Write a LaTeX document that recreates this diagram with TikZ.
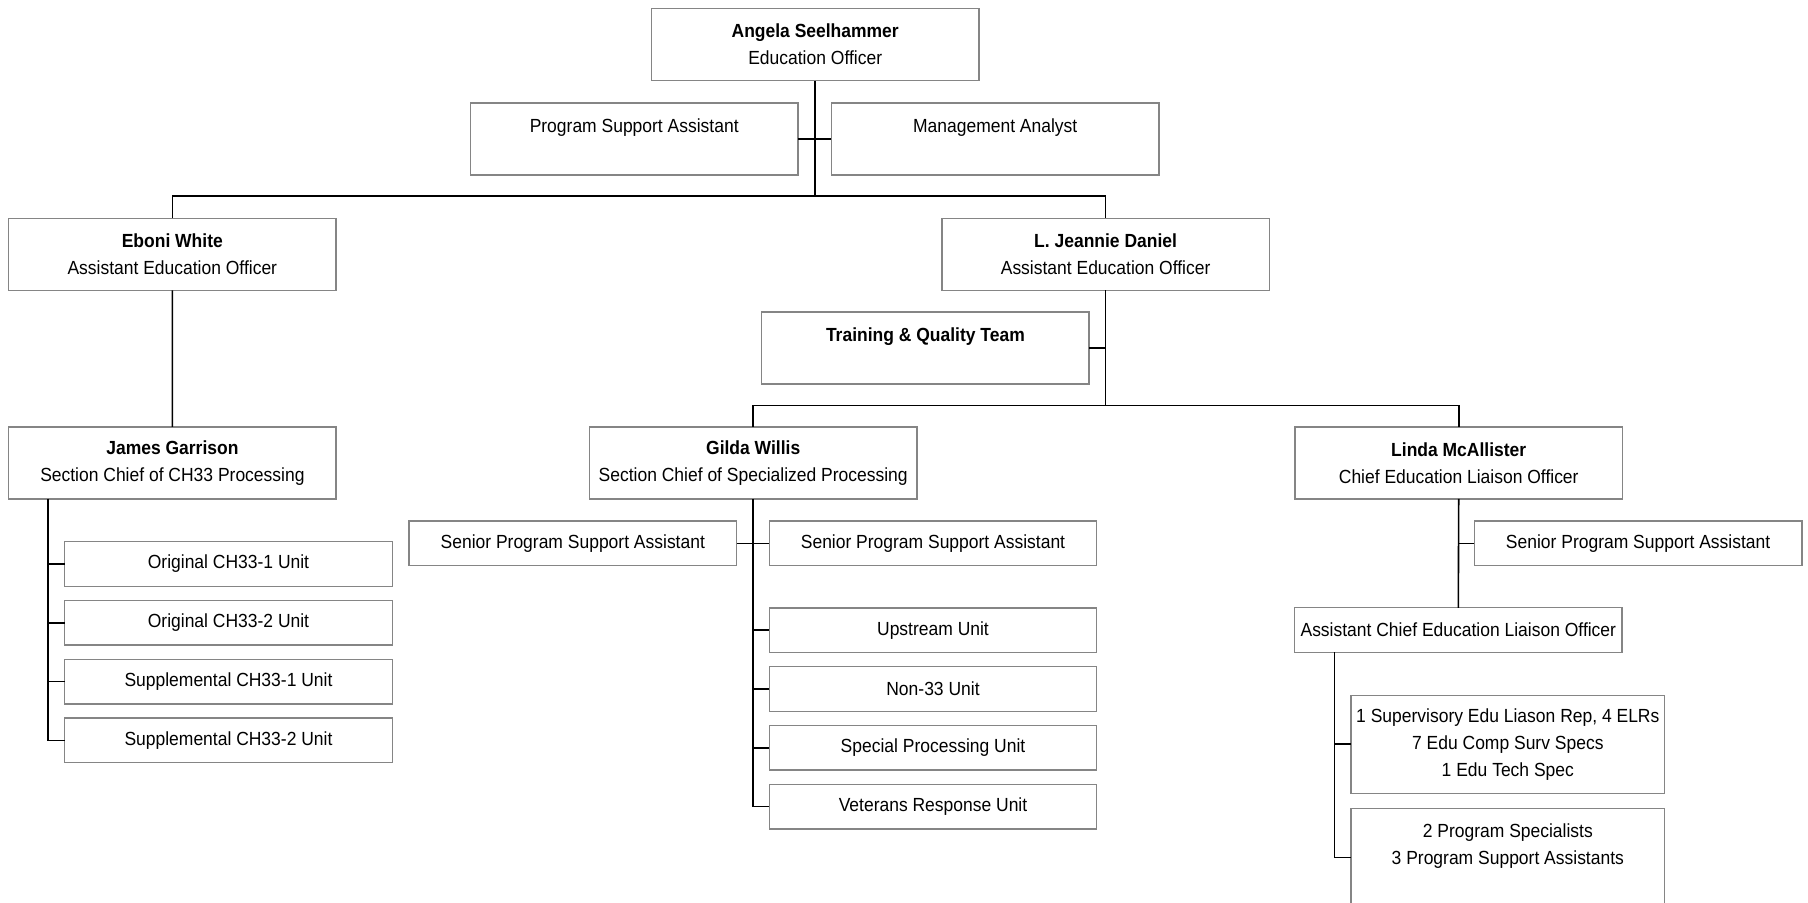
\documentclass[tikz,border=0pt]{standalone}
\usepackage{fontspec}
\setmainfont{Liberation Sans}[FakeStretch=0.92]
\usetikzlibrary{positioning,calc}
\definecolor{boxgray}{HTML}{858585}

\tikzset{
    box/.style={draw=boxgray, line width=0.7pt, fill=white, inner sep=0pt, outer sep=0pt, align=center,
        minimum width=163.75pt, minimum height=36pt, font=\fontsize{9.5}{13.5}\selectfont},
    unitbox/.style={box, minimum height=22.25pt},
    teambox/.style={box, minimum width=156.75pt, minimum height=49pt},
    conn/.style={-, draw=black, line width=0.8pt}
}

\begin{document}
\begin{tikzpicture}[x=0.5pt,y=-0.5pt]
    % 1 unit = 1 px of the 1808 x 902 page, y grows downwards
    \useasboundingbox (0,0) rectangle (1808,902);
    \clip (0,0) rectangle (1808,902);

    % top level
    \node[box] (edo) at (815.2,44.5) {\textbf{Angela Seelhammer}\\Education Officer};
    \node[box] (psa) at (634.2,138.8) {Program Support Assistant\\~};
    \node[box] (ma)  at (995.2,138.8) {Management Analyst\\~};

    \node[box] (aeoW) at (172.3,254.3) {\textbf{Eboni White}\\Assistant Education Officer};
    \node[box] (aeoD) at (1105.6,254.3) {\textbf{L. Jeannie Daniel}\\Assistant Education Officer};
    \node[box] (tqt)  at (925.4,348) {\textbf{Training \& Quality Team}\\~};

    % section chiefs
    \node[box] (scJ)  at (172.4,462.9) {\textbf{James Garrison}\\Section Chief of CH33 Processing};
    \node[box] (scG)  at (753.2,462.9) {\textbf{Gilda Willis}\\Section Chief of Specialized Processing};
    \node[box] (celo) at (1458.7,462.9) {\textbf{Linda McAllister}\\Chief Education Liaison Officer};

    % CH33 units
    \node[unitbox] (ocu1) at (228.5,564)   {Original CH33-1 Unit};
    \node[unitbox] (ocu2) at (228.5,622.8) {Original CH33-2 Unit};
    \node[unitbox] (scu1) at (228.5,681.6) {Supplemental CH33-1 Unit};
    \node[unitbox] (scu2) at (228.5,740.4) {Supplemental CH33-2 Unit};

    % specialized processing
    \node[unitbox] (spsaL) at (572.8,543.3) {Senior Program Support Assistant};
    \node[unitbox] (spsaR) at (933,543.3)   {Senior Program Support Assistant};
    \node[unitbox] (upu)  at (933,630.2) {Upstream Unit};
    \node[unitbox] (nonu) at (933,689)   {Non-33 Unit};
    \node[unitbox] (spu)  at (933,747.8) {Special Processing Unit};
    \node[unitbox] (vru)  at (933,806.6) {Veterans Response Unit};

    % education liaison
    \node[unitbox] (spsaC) at (1638.1,543.3) {Senior Program Support Assistant};
    \node[unitbox] (acelo) at (1458.3,630)   {Assistant Chief Education Liaison Officer};
    \node[teambox] (elr)  at (1507.8,744.2) {1 Supervisory Edu Liason Rep, 4 ELRs\\7 Edu Comp Surv Specs\\1 Edu Tech Spec};
    \node[teambox] (pst)  at (1507.8,857.3) {2 Program Specialists\\3 Program Support Assistants\\~};

    % connectors
    \coordinate (bar1) at (0,196);
    \coordinate (bar2) at (0,405.3);
    \draw[conn] (edo.south) -- (edo.south |- bar1);
    \draw[conn] (psa.east) -- (ma.west);
    \draw[conn] (aeoW.north) -- (aeoW.north |- bar1) -- (aeoD.north |- bar1) -- (aeoD.north);

    \draw[conn] (aeoW.south) -- (scJ.north);
    \draw[conn] (aeoD.south) -- (aeoD.south |- bar2);
    \draw[conn] (tqt.east) -- (tqt.east -| aeoD.south);
    \draw[conn] (scG.north) -- (scG.north |- bar2) -- (celo.north |- bar2) -- (celo.north);

    \coordinate (jTrunk) at ($(scJ.south west)+(39.4,0)$);
    \draw[conn] (jTrunk) |- (scu2.west);
    \foreach \u in {ocu1,ocu2,scu1}
        \draw[conn] (jTrunk |- \u.west) -- (\u.west);

    \draw[conn] (scG.south) |- (vru.west);
    \draw[conn] (spsaL.east) -- (spsaR.west);
    \foreach \u in {upu,nonu,spu}
        \draw[conn] (scG.south |- \u.west) -- (\u.west);

    \draw[conn] (celo.south) -- (acelo.north);
    \draw[conn] (spsaC.west) -- (spsaC.west -| celo.south);
    \coordinate (lTrunk) at ($(acelo.south west)+(40,0)$);
    \draw[conn] (lTrunk) |- (pst.west);
    \draw[conn] (lTrunk |- elr.west) -- (elr.west);
\end{tikzpicture}
\end{document}
